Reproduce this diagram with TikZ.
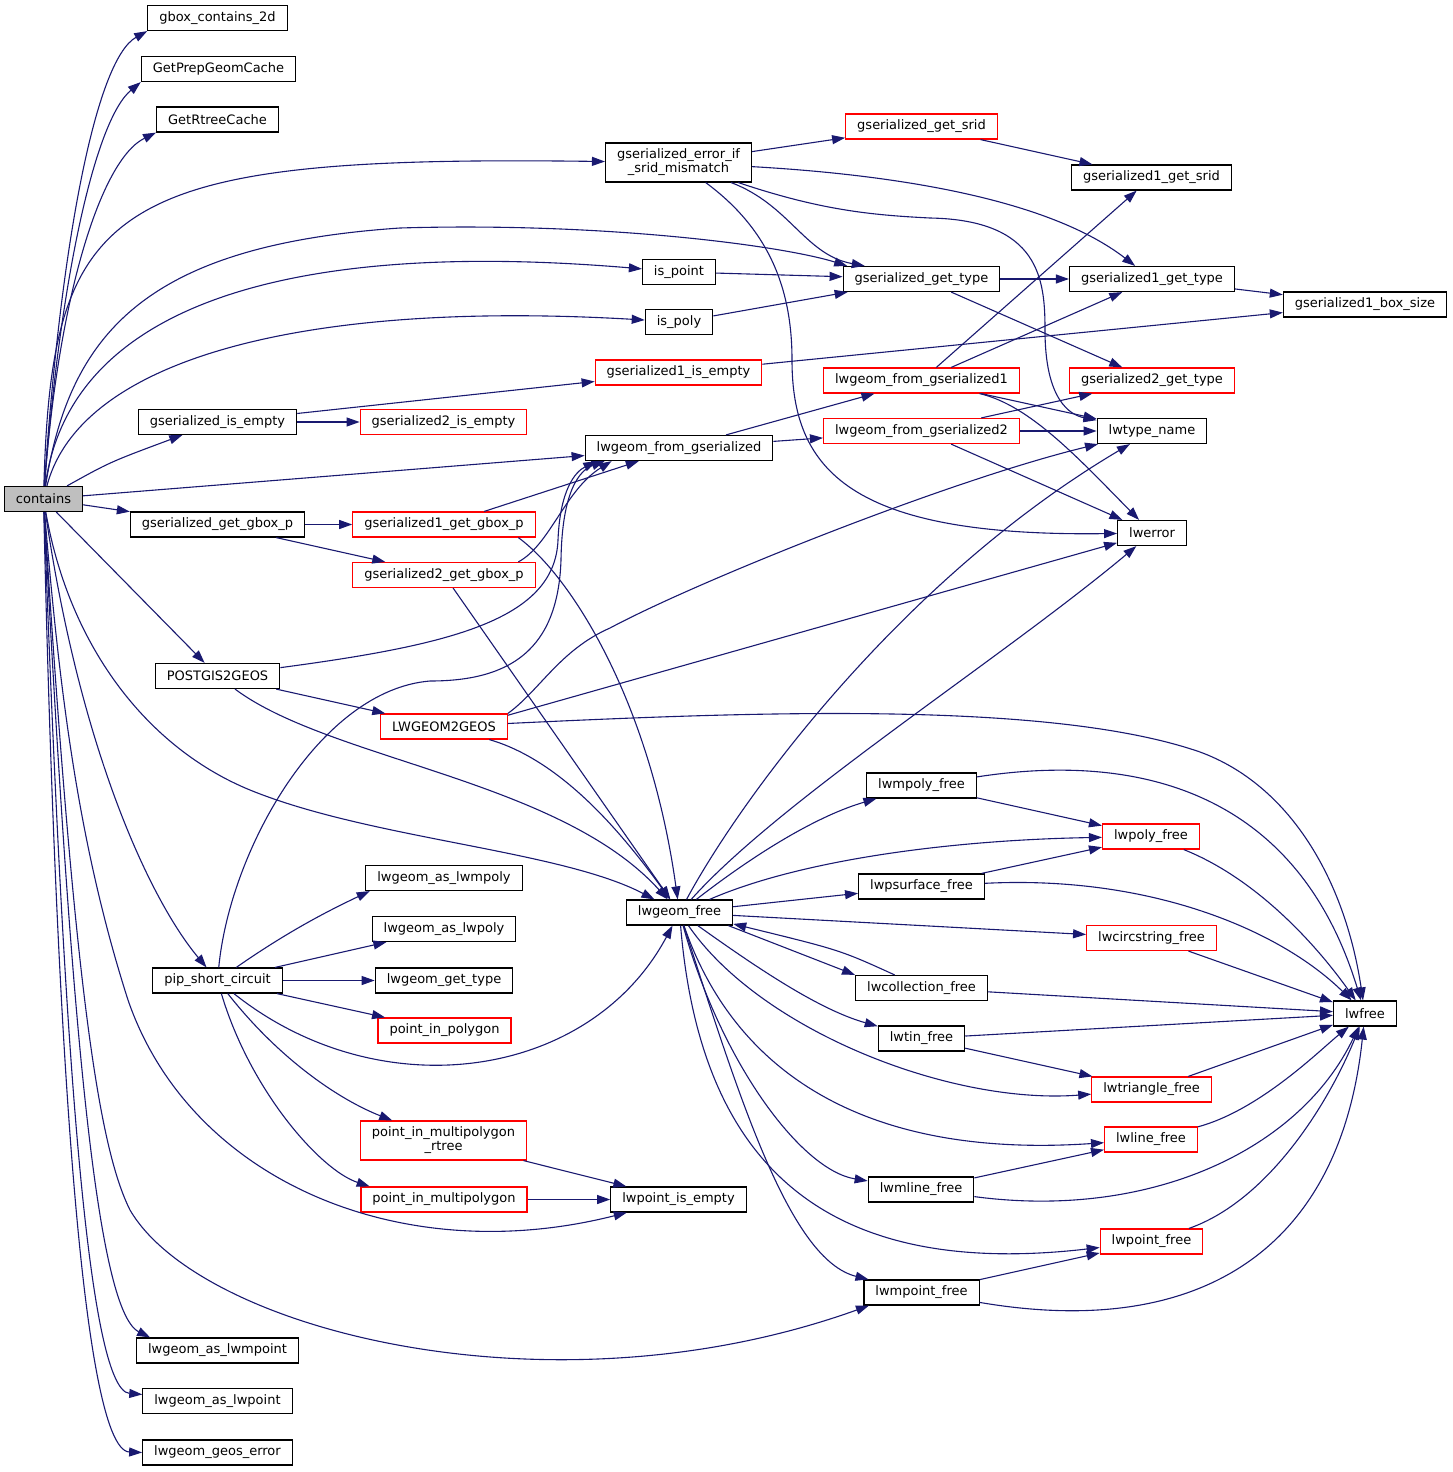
\documentclass[tikz,border=0pt]{standalone}
\usepackage{fontspec}
\setmainfont{DejaVu Sans}
\usepackage{tikz}
\usetikzlibrary{arrows.meta, positioning}
\definecolor{edgeblue}{HTML}{191970}
\definecolor{rootgray}{HTML}{BFBFBF}

\begin{document}
\begin{tikzpicture}[x=1pt, y=-1pt,
    func/.style={rectangle, draw=black, line width=1.2pt, fill=white, inner xsep=11.5pt, inner ysep=6pt,
                 minimum height=25pt, align=center, font=\fontsize{13}{14}\selectfont},
    trunc/.style={func, draw=red},
    root/.style={func, fill=rootgray},
    arrow/.style={->, >={Triangle[length=13pt, width=9pt]}, draw=edgeblue, line width=1.1pt}]

    \useasboundingbox (0,0) rectangle (1453,1472);

    % Nodes
    \node[root] (contains) at (43.5,499) {contains};
    \node[func] (gboxcont) at (217.5,18) {gbox\_contains\_2d};
    \node[func] (prepcache) at (218.5,69) {GetPrepGeomCache};
    \node[func] (rtreecache) at (217.5,119.5) {GetRtreeCache};
    \node[func] (gsempty) at (217.5,422) {gserialized\_is\_empty};
    \node[func] (gboxp) at (217.5,524.5) {gserialized\_get\_gbox\_p};
    \node[func] (p2geos) at (217.5,676) {POSTGIS2GEOS};
    \node[func] (pipshort) at (217.5,980.5) {pip\_short\_circuit};
    \node[func] (asmpt) at (217.5,1350.5) {lwgeom\_as\_lwmpoint};
    \node[func] (aspt) at (217.5,1401) {lwgeom\_as\_lwpoint};
    \node[func] (geoserr) at (217.5,1452.5) {lwgeom\_geos\_error};

    \node[trunc] (g2empty) at (443.5,422) {gserialized2\_is\_empty};
    \node[trunc] (g1gboxp) at (444,524.5) {gserialized1\_get\_gbox\_p};
    \node[trunc] (g2gboxp) at (444,575) {gserialized2\_get\_gbox\_p};
    \node[trunc] (lw2geos) at (444,726.5) {LWGEOM2GEOS};
    \node[func] (asmpoly) at (444,878) {lwgeom\_as\_lwmpoly};
    \node[func] (aspoly) at (444,929) {lwgeom\_as\_lwpoly};
    \node[func] (lwgettype) at (444,980.5) {lwgeom\_get\_type};
    \node[trunc] (pinpoly) at (444.5,1030.5) {point\_in\_polygon};
    \node[trunc] (pimrtree) at (443.5,1140.5) {point\_in\_multipolygon\\\_rtree};
    \node[trunc] (pim) at (444,1199.5) {point\_in\_multipolygon};

    \node[func] (sridchk) at (678.5,162.5) {gserialized\_error\_if\\\_srid\_mismatch};
    \node[func] (ispoint) at (679,272) {is\_point};
    \node[func] (ispoly) at (679,322) {is\_poly};
    \node[trunc] (g1empty) at (678.5,372.5) {gserialized1\_is\_empty};
    \node[func] (fromgser) at (679,448) {lwgeom\_from\_gserialized};
    \node[func] (geomfree) at (679.5,912.5) {lwgeom\_free};
    \node[func] (ptempty) at (678.5,1199.5) {lwpoint\_is\_empty};

    \node[trunc] (getsrid) at (921.5,126.5) {gserialized\_get\_srid};
    \node[func] (gettype) at (921.5,279) {gserialized\_get\_type};
    \node[trunc] (fromg1) at (921.5,380.5) {lwgeom\_from\_gserialized1};
    \node[trunc] (fromg2) at (921.5,431) {lwgeom\_from\_gserialized2};
    \node[func] (mpolyfree) at (921.5,785.5) {lwmpoly\_free};
    \node[func] (psurffree) at (921.5,886.5) {lwpsurface\_free};
    \node[func] (collfree) at (921.5,988) {lwcollection\_free};
    \node[func] (tinfree) at (921.5,1038.5) {lwtin\_free};
    \node[func] (mlinefree) at (921,1189.5) {lwmline\_free};
    \node[func] (mptfree) at (921.5,1292.5) {lwmpoint\_free};

    \node[func] (g1srid) at (1151.5,177.5) {gserialized1\_get\_srid};
    \node[func] (g1type) at (1152,279) {gserialized1\_get\_type};
    \node[trunc] (g2type) at (1152,380.5) {gserialized2\_get\_type};
    \node[func] (typename) at (1152,431) {lwtype\_name};
    \node[func] (lwerr) at (1152,533) {lwerror};
    \node[trunc] (polyfree) at (1151,836.5) {lwpoly\_free};
    \node[trunc] (circfree) at (1151.5,938) {lwcircstring\_free};
    \node[trunc] (trifree) at (1151.5,1089.5) {lwtriangle\_free};
    \node[trunc] (linefree) at (1151,1139.5) {lwline\_free};
    \node[trunc] (ptfree) at (1151.5,1241.5) {lwpoint\_free};

    \node[func] (g1box) at (1365,304.5) {gserialized1\_box\_size};
    \node[func] (lwfree) at (1365,1013.5) {lwfree};

    % Arrows
    \draw[arrow] (contains) .. controls (60,250) and (95,60) .. (gboxcont.south west);
    \draw[arrow] (contains) .. controls (60,280) and (95,120) .. (prepcache.south west);
    \draw[arrow] (contains) .. controls (58,300) and (100,160) .. (rtreecache.south west);
    \draw[arrow] (contains) .. controls (52,200) and (110,155) .. (sridchk);
    \draw[arrow] (contains) .. controls (70,330) and (150,245) .. (400,228) .. controls (600,222) and (780,245) .. (gettype.170);
    \draw[arrow] (contains) .. controls (70,300) and (300,240) .. (ispoint);
    \draw[arrow] (contains) .. controls (80,360) and (300,300) .. (ispoly);
    \draw[arrow] (contains) .. controls (110,462) .. (gsempty);
    \draw[arrow] (contains) -- (fromgser);
    \draw[arrow] (contains) -- (gboxp);
    \draw[arrow] (contains) -- (p2geos);
    \draw[arrow] (contains) .. controls (80,750) and (150,900) .. (pipshort);
    \draw[arrow] (contains) .. controls (70,650) and (150,749) .. (250,790) .. controls (370,839) and (560,850) .. (geomfree);
    \draw[arrow] (contains) .. controls (60,700) and (80,850) .. (128,1000) .. controls (190,1180) and (400,1270) .. (ptempty);
    \draw[arrow] (contains) .. controls (75,1000) and (100,1150) .. (130,1210) .. controls (200,1330) and (550,1420) .. (mptfree.194);
    \draw[arrow] (contains) .. controls (70,1000) and (95,1310) .. (asmpt.169);
    \draw[arrow] (contains) .. controls (62,1000) and (85,1390) .. (aspt.175);
    \draw[arrow] (contains) .. controls (55,1000) and (80,1450) .. (geoserr.west);

    \draw[arrow] (sridchk) -- (getsrid);
    \draw[arrow] (getsrid) -- (g1srid);
    \draw[arrow] (sridchk) .. controls (900,175) and (1050,200) .. (g1type);
    \draw[arrow] (sridchk) .. controls (790,205) and (805,255) .. (gettype.167);
    \draw[arrow] (sridchk) .. controls (820,210) and (870,215) .. (930,218) .. controls (1040,220) and (1045,280) .. (1045,330) .. controls (1045,400) and (1070,415) .. (typename);
    \draw[arrow] (sridchk) .. controls (770,230) and (792,290) .. (792,360) .. controls (792,470) and (850,537) .. (lwerr);

    \draw[arrow] (gettype) -- (g1type);
    \draw[arrow] (gettype) -- (g2type);
    \draw[arrow] (g1type) -- (g1box);
    \draw[arrow] (ispoint) -- (gettype);
    \draw[arrow] (ispoly) -- (gettype);
    \draw[arrow] (g1empty) -- (g1box);
    \draw[arrow] (gsempty) -- (g1empty);
    \draw[arrow] (gsempty) -- (g2empty);
    \draw[arrow] (fromgser) -- (fromg1);
    \draw[arrow] (fromgser) -- (fromg2);
    \draw[arrow] (fromg1) -- (g1srid);
    \draw[arrow] (fromg1) -- (g1type);
    \draw[arrow] (fromg1) -- (typename);
    \draw[arrow] (fromg1) .. controls (1030,405) and (1080,460) .. (lwerr);
    \draw[arrow] (fromg2) -- (g2type);
    \draw[arrow] (fromg2) -- (typename);
    \draw[arrow] (fromg2) -- (lwerr);

    \draw[arrow] (gboxp) -- (g1gboxp);
    \draw[arrow] (gboxp) -- (g2gboxp);
    \draw[arrow] (g1gboxp) -- (fromgser);
    \draw[arrow] (g1gboxp.-10) .. controls (570,575) and (650,700) .. (geomfree);
    \draw[arrow] (g2gboxp.10) .. controls (550,545) and (565,490) .. (fromgser.191);
    \draw[arrow] (g2gboxp) -- (geomfree);

    \draw[arrow] (p2geos) .. controls (450,645) and (555,620) .. (558,540) .. controls (560,490) and (575,472) .. (fromgser.189);
    \draw[arrow] (p2geos) -- (lw2geos);
    \draw[arrow] (p2geos) .. controls (330,760) and (560,780) .. (geomfree);
    \draw[arrow] (lw2geos.north east) .. controls (540,690) and (560,650) .. (610,628) .. controls (700,580) and (950,480) .. (typename);
    \draw[arrow] (lw2geos.10) -- (lwerr);
    \draw[arrow] (lw2geos) .. controls (750,712) and (1050,700) .. (1200,752) .. controls (1290,785) and (1345,880) .. (lwfree);
    \draw[arrow] (lw2geos) .. controls (560,760) and (620,830) .. (geomfree);

    \draw[arrow] (pipshort) .. controls (230,850) and (320,690) .. (430,681) .. controls (510,681) and (558,650) .. (561,560) .. controls (562,490) and (580,470) .. (fromgser.190);
    \draw[arrow] (pipshort) .. controls (290,930) and (330,910) .. (asmpoly.190);
    \draw[arrow] (pipshort) -- (aspoly);
    \draw[arrow] (pipshort) -- (lwgettype);
    \draw[arrow] (pipshort) -- (pinpoly);
    \draw[arrow] (pipshort) .. controls (280,1060) and (340,1100) .. (pimrtree);
    \draw[arrow] (pipshort) .. controls (250,1090) and (320,1170) .. (pim.170);
    \draw[arrow] (pipshort) .. controls (380,1110) and (590,1080) .. (geomfree);
    \draw[arrow] (pimrtree) -- (ptempty);
    \draw[arrow] (pim) -- (ptempty);

    \draw[arrow] (geomfree) .. controls (760,850) and (820,815) .. (mpolyfree);
    \draw[arrow] (geomfree) .. controls (800,860) and (950,840) .. (polyfree);
    \draw[arrow] (geomfree) -- (psurffree);
    \draw[arrow] (geomfree) -- (circfree);
    \draw[arrow] (geomfree.-15) -- (collfree.north west);
    \draw[arrow] (collfree.154) .. controls (840,950) .. (geomfree.-12);
    \draw[arrow] (geomfree) .. controls (760,970) and (820,1010) .. (tinfree);
    \draw[arrow] (geomfree) .. controls (760,1030) and (950,1105) .. (trifree);
    \draw[arrow] (geomfree) .. controls (730,1060) and (850,1160) .. (linefree);
    \draw[arrow] (geomfree) .. controls (720,1060) and (800,1170) .. (mlinefree);
    \draw[arrow] (geomfree) .. controls (700,1160) and (820,1280) .. (ptfree);
    \draw[arrow] (geomfree) .. controls (740,1100) and (790,1260) .. (mptfree);
    \draw[arrow] (geomfree) .. controls (740,800) and (900,580) .. (typename);
    \draw[arrow] (geomfree) .. controls (780,800) and (1000,660) .. (lwerr);

    \draw[arrow] (mpolyfree) -- (polyfree);
    \draw[arrow] (mpolyfree) .. controls (1150,750) and (1300,800) .. (lwfree);
    \draw[arrow] (polyfree) .. controls (1260,880) and (1320,950) .. (lwfree);
    \draw[arrow] (psurffree) -- (polyfree);
    \draw[arrow] (psurffree) .. controls (1150,875) and (1280,930) .. (lwfree);
    \draw[arrow] (circfree) -- (lwfree);
    \draw[arrow] (collfree) -- (lwfree);
    \draw[arrow] (tinfree) -- (lwfree);
    \draw[arrow] (tinfree) -- (trifree);
    \draw[arrow] (trifree) -- (lwfree);
    \draw[arrow] (linefree) .. controls (1260,1110) and (1320,1050) .. (lwfree);
    \draw[arrow] (mlinefree) -- (linefree);
    \draw[arrow] (mlinefree) .. controls (1150,1220) and (1300,1150) .. (lwfree);
    \draw[arrow] (ptfree) .. controls (1270,1200) and (1330,1100) .. (lwfree);
    \draw[arrow] (mptfree) -- (ptfree);
    \draw[arrow] (mptfree) .. controls (1200,1340) and (1340,1250) .. (lwfree);

\end{tikzpicture}
\end{document}
